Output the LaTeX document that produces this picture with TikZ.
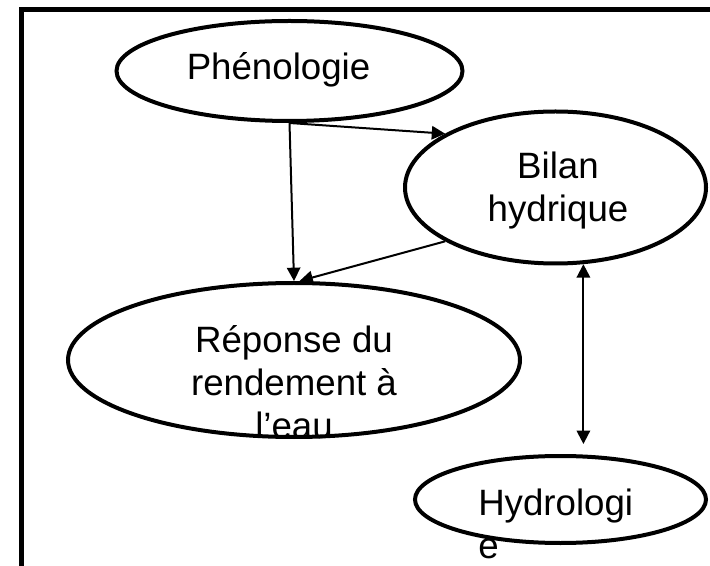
\documentclass[tikz,border=0pt]{standalone}
\usepackage{fontspec}
\setmainfont{Liberation Sans}
\usetikzlibrary{shapes.geometric,arrows.meta}

\begin{document}
\begin{tikzpicture}[x=0.75pt,y=-0.75pt,>={Triangle[length=10pt,width=10pt]},
  bulle/.style={draw,ellipse,line width=3pt,inner sep=0pt},
  texte/.style={font=\fontsize{27.5pt}{32.25pt}\selectfont,inner sep=0pt},
  fleche/.style={line width=1.5pt,->}]
\clip (0,0) rectangle (710,566);
\fill[white] (0,0) rectangle (710,566);
\draw[line width=3.75pt] (21,10) rectangle (740,600);
% textes (ancre base = derniere ligne)
\node[texte,anchor=base] (tphen) at (278.5,80) {Phénologie};
\node[texte,align=center,anchor=base] (tbil) at (558,222) {Bilan\\hydrique};
\node[texte,align=center,anchor=base] (trep) at (294,438) {Réponse du\\rendement à\\l’eau};
\node[texte,align=left,anchor=base west] (thyd) at (478,558) {Hydrologi\\e};
% bulles
\node[bulle,minimum width=259.5pt,minimum height=75pt] (phen) at (289.5,71) {};
\node[bulle,minimum width=225.75pt,minimum height=114pt] (bil) at (555.5,187.5) {};
\node[bulle,minimum width=339pt,minimum height=115.5pt] (rep) at (294,360) {};
\node[bulle,minimum width=218.25pt,minimum height=65.25pt] (hyd) at (560.5,499.5) {};
% fleches
\draw[fleche] (phen.south) -- (rep.north);
\draw[fleche] (phen.south) -- (bil.154);
\draw[fleche] (bil.206) -- (rep.86);
\draw[fleche,<->,shorten >=7.5pt] (bil.290) -- (bil.290 |- hyd.north);
\end{tikzpicture}
\end{document}
